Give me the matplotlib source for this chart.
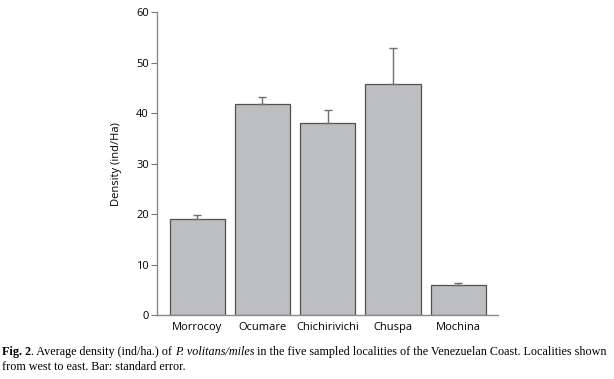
import matplotlib
matplotlib.use("Agg")
import matplotlib.pyplot as plt

categories = ["Morrocoy", "Ocumare", "Chichirivichi", "Chuspa", "Mochina"]
density = [19.0, 41.8, 38.0, 45.9, 6.0]
std_err = [0.8, 1.5, 2.6, 7.0, 0.4]
yticks = [0, 10, 20, 30, 40, 50, 60]

fig = plt.figure(figsize=(6.14, 3.79), dpi=100)
ax = fig.add_axes([0.256, 0.168, 0.5546, 0.7995])

sans = "Open Sans"
x = list(range(len(categories)))
ax.bar(x, density, width=0.845, color="#bdbec1", edgecolor="#505050", linewidth=0.9,
       yerr=[[0] * len(std_err), std_err], zorder=2,
       error_kw=dict(ecolor="#6e6e6e", elinewidth=1.0, capsize=3, capthick=1.0))
ax.set_xlim(-0.613, 4.604)
ax.set_ylim(0, 60)
ax.set_yticks(yticks)
ax.set_xticks(x)
ax.set_xticklabels(categories, fontfamily=sans, fontsize=8)
ax.set_yticklabels([str(v) for v in yticks], fontfamily=sans, fontsize=8)
ax.tick_params(axis="x", length=0, pad=5)
ax.tick_params(axis="y", length=4, width=0.8, color="#777777", pad=2)
for s in ["top", "right"]:
    ax.spines[s].set_visible(False)
for s in ["left", "bottom"]:
    ax.spines[s].set_color("#8a8a8a")
    ax.spines[s].set_linewidth(1.0)
ax.set_ylabel("Density (ind/Ha)", fontfamily=sans, fontsize=8, labelpad=10)

serif = "Liberation Serif"
fs = 8.72
t = fig.text(0.003, 1 - 358 / 379, "Fig. 2", fontfamily=serif, fontweight="bold", fontsize=fs, va="bottom")
parts = [(". Average density (ind/ha.) of ", "normal"),
         ("P. volitans/miles", "italic"),
         (" in the five sampled localities of the Venezuelan Coast. Localities shown", "normal")]
prev = t
for txt, style in parts:
    prev = ax.annotate(txt, xy=(1, 0), xycoords=prev, va="bottom", ha="left",
                       fontfamily=serif, fontstyle=style, fontsize=fs, annotation_clip=False)
fig.text(0.003, 1 - 373 / 379, "from west to east. Bar: standard error.", fontfamily=serif,
         fontsize=fs, va="bottom")

fig.savefig("out.png", dpi=100)
